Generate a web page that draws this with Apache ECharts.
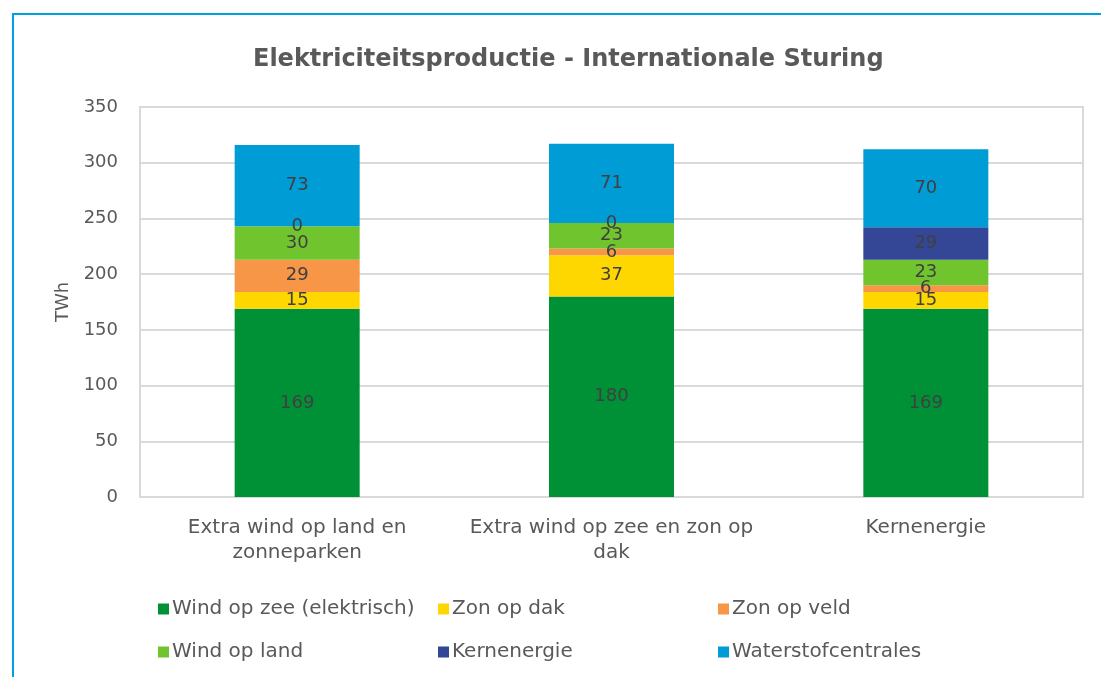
<!DOCTYPE html>
<html>
<head>
<meta charset="utf-8">
<script src="https://cdn.jsdelivr.net/npm/echarts@6/dist/echarts.min.js"></script>
<style>
  html, body { margin: 0; padding: 0; background: #fff; }
  #chart { width: 1101px; height: 677px; }
</style>
</head>
<body>
<div id="chart"></div>
<script>
var categories = ['Extra wind op land en\nzonneparken', 'Extra wind op zee en zon op\ndak', 'Kernenergie'];
var seriesNames = ['Wind op zee (elektrisch)', 'Zon op dak', 'Zon op veld', 'Wind op land', 'Kernenergie', 'Waterstofcentrales'];
var windZee = [169, 180, 169];
var zonDak = [15, 37, 15];
var zonVeld = [29, 6, 6];
var windLand = [30, 23, 23];
var kern = [0, 0, 29];
var waterstof = [73, 71, 70];
var yTicks = [0, 50, 100, 150, 200, 250, 300, 350];

var colors = ['#009036', '#FFD700', '#F79646', '#70C52E', '#344796', '#009CD6'];
var values = [windZee, zonDak, zonVeld, windLand, kern, waterstof];
var font = '"DejaVu Sans", sans-serif';
var textColor = '#595959';

var series = [];
for (var i = 0; i < seriesNames.length; i++) {
  series.push({
    name: seriesNames[i],
    type: 'bar',
    stack: 'total',
    barWidth: 125,
    data: values[i],
    itemStyle: { color: colors[i] },
    label: {
      show: true,
      position: 'inside',
      color: '#404040',
      fontSize: 18,
      fontFamily: font
    }
  });
}

// een kolom van de legenda
function legendColumn(left, names) {
  return {
    orient: 'vertical',
    left: left,
    top: 594,
    itemGap: 23,
    itemWidth: 11,
    itemHeight: 11,
    icon: 'rect',
    data: names,
    textStyle: { color: textColor, fontSize: 20, fontFamily: font, padding: [0, 0, 0, -2] }
  };
}

var myChart = echarts.init(document.getElementById('chart'));
var option = {
  animation: false,
  title: {
    text: 'Elektriciteitsproductie - Internationale Sturing',
    left: 248,
    top: 43,
    textStyle: { color: textColor, fontSize: 24, fontWeight: 'bold', fontFamily: font }
  },
  graphic: [
    { type: 'line', shape: { x1: 12, y1: 14, x2: 1101, y2: 14 }, style: { stroke: '#00A0E0', lineWidth: 2 } },
    { type: 'line', shape: { x1: 13, y1: 14, x2: 13, y2: 677 }, style: { stroke: '#00A0E0', lineWidth: 2 } }
  ],
  legend: [
    legendColumn(153, [seriesNames[0], seriesNames[3]]),
    legendColumn(433, [seriesNames[1], seriesNames[4]]),
    legendColumn(713, [seriesNames[2], seriesNames[5]])
  ],
  grid: {
    left: 140, right: 18, top: 107, bottom: 180,
    show: true, borderColor: '#D9D9D9', borderWidth: 2
  },
  xAxis: {
    type: 'category',
    data: categories,
    axisLine: { show: false },
    axisTick: { show: false },
    axisLabel: { interval: 0, color: textColor, fontSize: 20, fontFamily: font, lineHeight: 25, margin: 18 }
  },
  yAxis: {
    type: 'value',
    min: yTicks[0],
    max: yTicks[yTicks.length - 1],
    interval: 50,
    name: 'TWh',
    nameLocation: 'middle',
    nameGap: 68,
    nameTextStyle: { color: textColor, fontSize: 18, fontFamily: font },
    axisLabel: { color: textColor, fontSize: 18, fontFamily: font, margin: 22 },
    splitLine: { lineStyle: { color: '#D9D9D9', width: 2 } }
  },
  series: series
};
myChart.setOption(option);
</script>
</body>
</html>
